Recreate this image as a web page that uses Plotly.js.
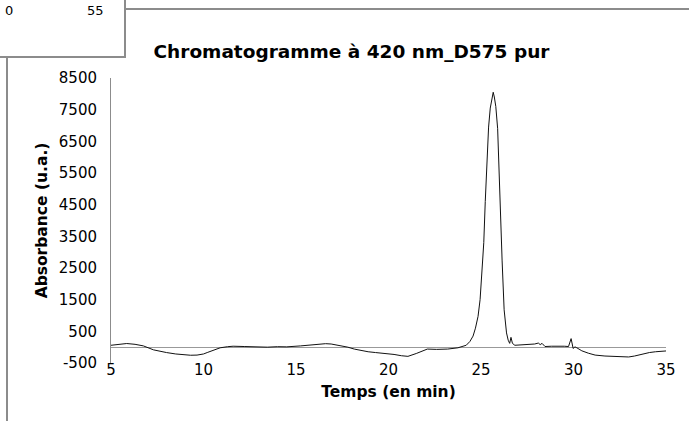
<!DOCTYPE html>
<html>
<head>
<meta charset="utf-8">
<script src="https://cdn.plot.ly/plotly-3.0.1.min.js"></script>
<style>html,body{margin:0;padding:0;background:#fff;}#chart{width:689px;height:421px;}</style>
</head>
<body>
<div id="chart"></div>
<script>
// Retention time (min)
const times = [
  5.0, 5.4, 5.85, 6.3, 6.75, 7.3, 7.7, 8.0, 8.5, 8.9, 9.3, 9.65, 10.0, 10.2, 10.5, 10.9,
  11.3, 11.6, 12.2, 12.8, 13.45, 14.0, 14.5, 15.25, 15.8, 16.2, 16.6, 16.9, 17.4, 17.8,
  18.15, 18.5, 18.9, 19.3, 19.8, 20.3, 20.7, 21.05, 21.5, 22.1, 22.6, 23.2, 23.75, 24.0,
  24.2, 24.4, 24.57, 24.7, 24.84, 24.95, 25.05, 25.15, 25.23, 25.32, 25.41, 25.5, 25.6,
  25.66, 25.72, 25.8, 25.9, 26.0, 26.14, 26.25, 26.38, 26.47, 26.55, 26.62, 26.7, 26.83,
  27.2, 27.7, 27.9, 28.1, 28.2, 28.3, 28.46, 28.8, 29.18, 29.5, 29.73, 29.87, 29.98, 30.08,
  30.18, 30.45, 30.8, 31.17, 31.7, 32.25, 32.6, 32.98, 33.3, 33.7, 34.1, 34.43, 34.8, 35.1
];
// Absorbance (u.a.)
const absorbance = [
  60, 90, 115, 90, 40, -85, -140, -170, -215, -240, -255, -250, -215, -170, -100, -20,
  15, 30, 20, 10, 0, 15, 10, 40, 70, 100, 110, 100, 50, 0,
  -60, -110, -145, -170, -195, -230, -270, -290, -200, -60, -70, -60, -20, 30,
  60, 180, 350, 600, 970, 1500, 2300, 3300, 4600, 5800, 6950, 7550, 7950,
  8050, 7900, 7600, 6900, 4850, 2750, 1180, 450, 220, 120, 310, 120, 60,
  70, 80, 100, 130, 80, 120, 20, 30, 40, 30, 20, 270, -40, 10,
  -20, -115, -190, -250, -280, -290, -300, -310, -280, -220, -170, -145, -130, -115
];
const xTicks = [5, 10, 15, 20, 25, 30, 35];
const yTicks = [-500, 500, 1500, 2500, 3500, 4500, 5500, 6500, 7500, 8500];
const chartTitle = 'Chromatogramme à 420 nm_D575 pur';
const xTitle = 'Temps (en min)';
const yTitle = 'Absorbance (u.a.)';
const cornerLabels = ['0', '55'];

const W = 689, H = 421, L = 111, R = 23, T = 78, B = 58;
const pw = W - L - R, ph = H - T - B;
const PX = p => (p - L) / pw;
const PY = p => (H - B - p) / ph;
const grey = '#8c8c8c';

const trace = {
  x: times, y: absorbance, type: 'scatter', mode: 'lines',
  line: {color: '#111', width: 1}, hoverinfo: 'skip'
};

const layout = {
  width: W, height: H,
  margin: {l: L, r: R, t: T, b: B},
  paper_bgcolor: '#fff', plot_bgcolor: '#fff',
  showlegend: false,
  font: {family: 'DejaVu Sans, sans-serif', color: '#000'},
  title: {
    text: chartTitle,
    font: {family: 'DejaVu Sans, sans-serif', size: 18.5, weight: 'bold', color: '#000'},
    xref: 'container', x: 351.5 / W, xanchor: 'center',
    yref: 'container', y: 1 - 52 / H, yanchor: 'middle'
  },
  xaxis: {
    range: [5, 35], tickvals: xTicks, ticktext: xTicks.map(String),
    showgrid: false, zeroline: false, showline: false, ticks: '',
    tickfont: {family: 'DejaVu Sans, sans-serif', size: 15, color: '#000'},
    ticklabelstandoff: -4,
    title: {text: xTitle, standoff: 8,
      font: {family: 'DejaVu Sans, sans-serif', size: 15.5, weight: 'bold', color: '#000'}}
  },
  yaxis: {
    range: [-500, 8500], tickvals: yTicks, ticktext: yTicks.map(String),
    showgrid: false, zeroline: true, zerolinecolor: '#999', zerolinewidth: 1,
    showline: true, linecolor: grey, linewidth: 1, ticks: '',
    tickfont: {family: 'DejaVu Sans, sans-serif', size: 15, color: '#000'},
    ticklabelstandoff: 10,
    title: {text: yTitle, standoff: 7,
      font: {family: 'DejaVu Sans, sans-serif', size: 15.5, weight: 'bold', color: '#000'}}
  },
  shapes: [
    {type: 'rect', xref: 'paper', yref: 'paper', x0: PX(-10), x1: PX(125), y0: PY(-10), y1: PY(57),
     line: {color: grey, width: 2}, fillcolor: 'rgba(0,0,0,0)', layer: 'above'},
    {type: 'line', xref: 'paper', yref: 'paper', x0: PX(125), x1: PX(700), y0: PY(9), y1: PY(9),
     line: {color: grey, width: 2}, layer: 'above'},
    {type: 'line', xref: 'paper', yref: 'paper', x0: PX(7), x1: PX(7), y0: PY(57), y1: PY(430),
     line: {color: grey, width: 2}, layer: 'above'}
  ],
  annotations: [
    {xref: 'paper', yref: 'paper', x: PX(3), y: PY(1), xanchor: 'left', yanchor: 'top',
     text: cornerLabels[0], showarrow: false, font: {family: 'DejaVu Sans, sans-serif', size: 13, color: '#000'}},
    {xref: 'paper', yref: 'paper', x: PX(95), y: PY(1), xanchor: 'center', yanchor: 'top',
     text: cornerLabels[1], showarrow: false, font: {family: 'DejaVu Sans, sans-serif', size: 13, color: '#000'}}
  ]
};

Plotly.newPlot('chart', [trace], layout, {staticPlot: true, displayModeBar: false});
</script>
</body>
</html>
